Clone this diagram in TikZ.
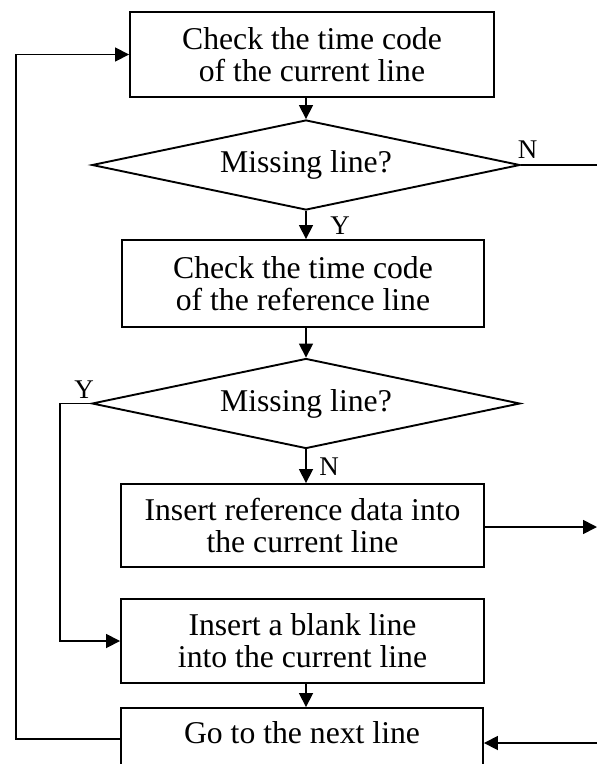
\documentclass[tikz,border=0pt]{standalone}
\usepackage{fontspec}
\setmainfont{Liberation Serif}
\usetikzlibrary{shapes.geometric,arrows.meta}
\begin{document}
\begin{tikzpicture}[x=1pt,y=-1pt,
  font=\fontsize{31.7}{32}\selectfont,
  stepbox/.style={draw,line width=1.9pt,rectangle,align=center,inner sep=0pt},
  decision/.style={draw,line width=1.9pt,diamond,shape aspect=4.75,inner sep=0pt,minimum width=428pt,minimum height=90pt},
  conn/.style={line width=1.7pt},
  arr/.style={conn,-{Triangle[length=14pt,width=14pt]}},
  lbl/.style={font=\fontsize{27}{28}\selectfont,inner sep=0pt}]
\useasboundingbox (0,0) rectangle (597,764);
\node[stepbox,minimum width=364pt,minimum height=85pt] (box1) at (312,54.5) {Check the time code\\of the current line};
\node[decision] (d1) at (306,165) {Missing line?};
\node[stepbox,minimum width=362pt,minimum height=87pt] (box2) at (303,283.5) {Check the time code\\of the reference line};
\node[decision] (d2) at (306,403.5) {Missing line?};
\node[stepbox,minimum width=363pt,minimum height=83pt] (box3) at (302.5,525.5) {Insert reference data into\\the current line};
\node[stepbox,minimum width=363pt,minimum height=84pt] (box4) at (302.5,641) {Insert a blank line\\into the current line};
\node[stepbox,minimum width=362pt,minimum height=62pt,text height=21pt,text depth=13pt] (box5) at (302,739) {Go to the next line};
\coordinate (outN) at (597,165);
\coordinate (out3) at (597,527);
\coordinate (in5) at (597,743);
\node[lbl] (lN1) at (527.5,150) {N};
\node[lbl] (lY1) at (340,226) {Y};
\node[lbl] (lY2) at (84,389.5) {Y};
\node[lbl] (lN2) at (329,467) {N};
\draw[arr] (d1.north |- box1.south) -- (d1.north);
\draw[arr] (d1.south) -- (d1.south |- box2.north);
\draw[conn] (d1.east) -- (outN);
\draw[arr] (d2.north |- box2.south) -- (d2.north);
\draw[arr] (d2.south) -- (d2.south |- box3.north);
\draw[arr] (d2.west) -- ++(-31,0) |- (box4.west);
\draw[arr] (box3.east |- out3) -- (out3);
\draw[arr] (d2.north |- box4.south) -- (d2.north |- box5.north);
\draw[arr] (in5) -- (in5 -| box5.east);
\draw[arr] (box5.west) -- ++(-104,0) |- (box1.west);
\end{tikzpicture}
\end{document}
